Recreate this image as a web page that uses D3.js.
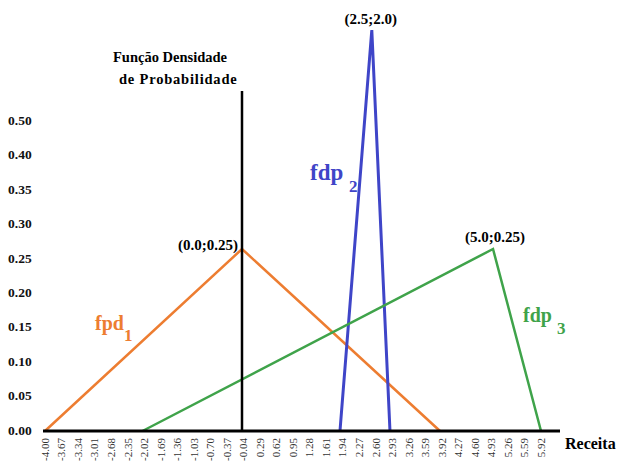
<!DOCTYPE html>
<html>
<head>
<meta charset="utf-8">
<script src="https://cdnjs.cloudflare.com/ajax/libs/d3/7.8.5/d3.min.js"></script>
<style>
	body { margin: 0; background: #fff; }
	text { font-family: 'Liberation Serif', 'DejaVu Serif', serif; }
</style>
</head>
<body>
<div id="chart"></div>
<script>
'use strict';

// tick labels as printed on the figure
var xTickLabels = ['-4.00','-3.67','-3.34','-3.01','-2.68','-2.35','-2.02','-1.69','-1.36','-1.03',
	'-0.70','-0.37','-0.04','0.29','0.62','0.95','1.28','1.61','1.94','2.27','2.60','2.93',
	'3.26','3.59','3.92','4.27','4.60','4.93','5.26','5.59','5.92'];
var yTickLabels = ['0.00','0.05','0.10','0.15','0.20','0.25','0.30','0.35','0.40','0.50'];

// triangle vertices (receita, densidade)
var fpd1 = [[-4.00, 0], [0.0, 0.25], [3.92, 0]];
var fdp2 = [[1.94, 0], [2.57, 2.0], [2.93, 0]];
var fdp3 = [[-2.02, 0], [4.97, 0.25], [5.92, 0]];

var seriesNames = ['fpd', 'fdp ', 'fdp '];
var seriesSubs = ['1', '2', '3'];
var peakLabels = ['(0.0;0.25)', '(2.5;2.0)', '(5.0;0.25)'];
var colors = ['#ed7d31', '#3f45c8', '#3fa34a'];

var width = 618, height = 463;

var svg = d3.select('#chart').append('svg')
	.attr('width', width)
	.attr('height', height);

// the drawing is schematic, so the scales are piecewise
var x = d3.scaleLinear()
	.domain([-4, 0, 5.92])
	.range([45, 242, 541]);
var y = d3.scaleLinear()
	.domain([0, 0.25, 2.0])
	.range([431, 249, 30]);

// tick labels spaced evenly like in the source
var xTicks = d3.scalePoint().domain(xTickLabels).range([45, 541]);
var yTicks = d3.scalePoint().domain(yTickLabels).range([430, 120]);

// x tick labels (rotated)
svg.append('g').selectAll('text')
	.data(xTickLabels)
	.enter().append('text')
	.attr('transform', function(d){
		return 'translate(' + xTicks(d) + ',438) rotate(-90)';
	})
	.attr('dy', '0.35em')
	.style('text-anchor', 'end')
	.style('font-size', '11px')
	.style('fill', '#333')
	.text(function(d){ return d; });

// y tick labels
svg.append('g').selectAll('text')
	.data(yTickLabels)
	.enter().append('text')
	.attr('x', 8)
	.attr('y', function(d){ return yTicks(d); })
	.attr('dy', '0.35em')
	.style('font-size', '13.5px')
	.style('font-weight', 'bold')
	.style('fill', '#111')
	.text(function(d){ return d; });

// series
var line = d3.line()
	.x(function(d){ return x(d[0]); })
	.y(function(d){ return y(d[1]); });

var allSeries = [fpd1, fdp2, fdp3];
svg.append('g').selectAll('path')
	.data(allSeries)
	.enter().append('path')
	.attr('d', line)
	.style('fill', 'none')
	.style('stroke', function(d, i){ return colors[i]; })
	.style('stroke-width', function(d, i){ return i === 1 ? 3 : 2.5; })
	.style('stroke-linejoin', 'miter');

// axes lines
svg.append('line')
	.attr('x1', 43).attr('x2', 560)
	.attr('y1', y(0)).attr('y2', y(0))
	.style('stroke', '#000').style('stroke-width', 3);
svg.append('line')
	.attr('x1', x(0)).attr('x2', x(0))
	.attr('y1', 91).attr('y2', y(0))
	.style('stroke', '#000').style('stroke-width', 2.5);

// axis titles
svg.append('text')
	.attr('x', 113).attr('y', 62)
	.style('font-size', '14.5px').style('font-weight', 'bold')
	.text('Função Densidade');
svg.append('text')
	.attr('x', 119).attr('y', 84)
	.style('font-size', '14.5px').style('font-weight', 'bold')
	.style('letter-spacing', '0.8px')
	.text('de Probabilidade');
svg.append('text')
	.attr('x', 565).attr('y', 449)
	.style('font-size', '16px').style('font-weight', 'bold')
	.text('Receita');

// peak labels
var peakPos = [
	{dx: -4, dy: 1, anchor: 'end'},
	{dx: -1, dy: -6, anchor: 'middle'},
	{dx: 2, dy: -7, anchor: 'middle'}
];
svg.append('g').selectAll('text')
	.data(allSeries)
	.enter().append('text')
	.attr('x', function(d, i){ return x(d[1][0]) + peakPos[i].dx; })
	.attr('y', function(d, i){ return y(d[1][1]) + peakPos[i].dy; })
	.style('text-anchor', function(d, i){ return peakPos[i].anchor; })
	.style('font-size', '15px')
	.style('font-weight', 'bold')
	.text(function(d, i){ return peakLabels[i]; });

// series labels
var namePos = [[95, 330], [310, 180], [523, 322]];
var nameSize = [20, 23, 20];
var names = svg.append('g').selectAll('text')
	.data(seriesNames)
	.enter().append('text')
	.attr('x', function(d, i){ return namePos[i][0]; })
	.attr('y', function(d, i){ return namePos[i][1]; })
	.style('font-size', function(d, i){ return nameSize[i] + 'px'; })
	.style('font-weight', 'bold')
	.style('fill', function(d, i){ return colors[i]; })
	.style('white-space', 'pre');
names.append('tspan')
	.text(function(d){ return d; });
names.append('tspan')
	.attr('dy', function(d, i){ return i === 0 ? 11 : 12; })
	.style('font-size', '17px')
	.text(function(d, i){ return seriesSubs[i]; });
</script>
</body>
</html>
